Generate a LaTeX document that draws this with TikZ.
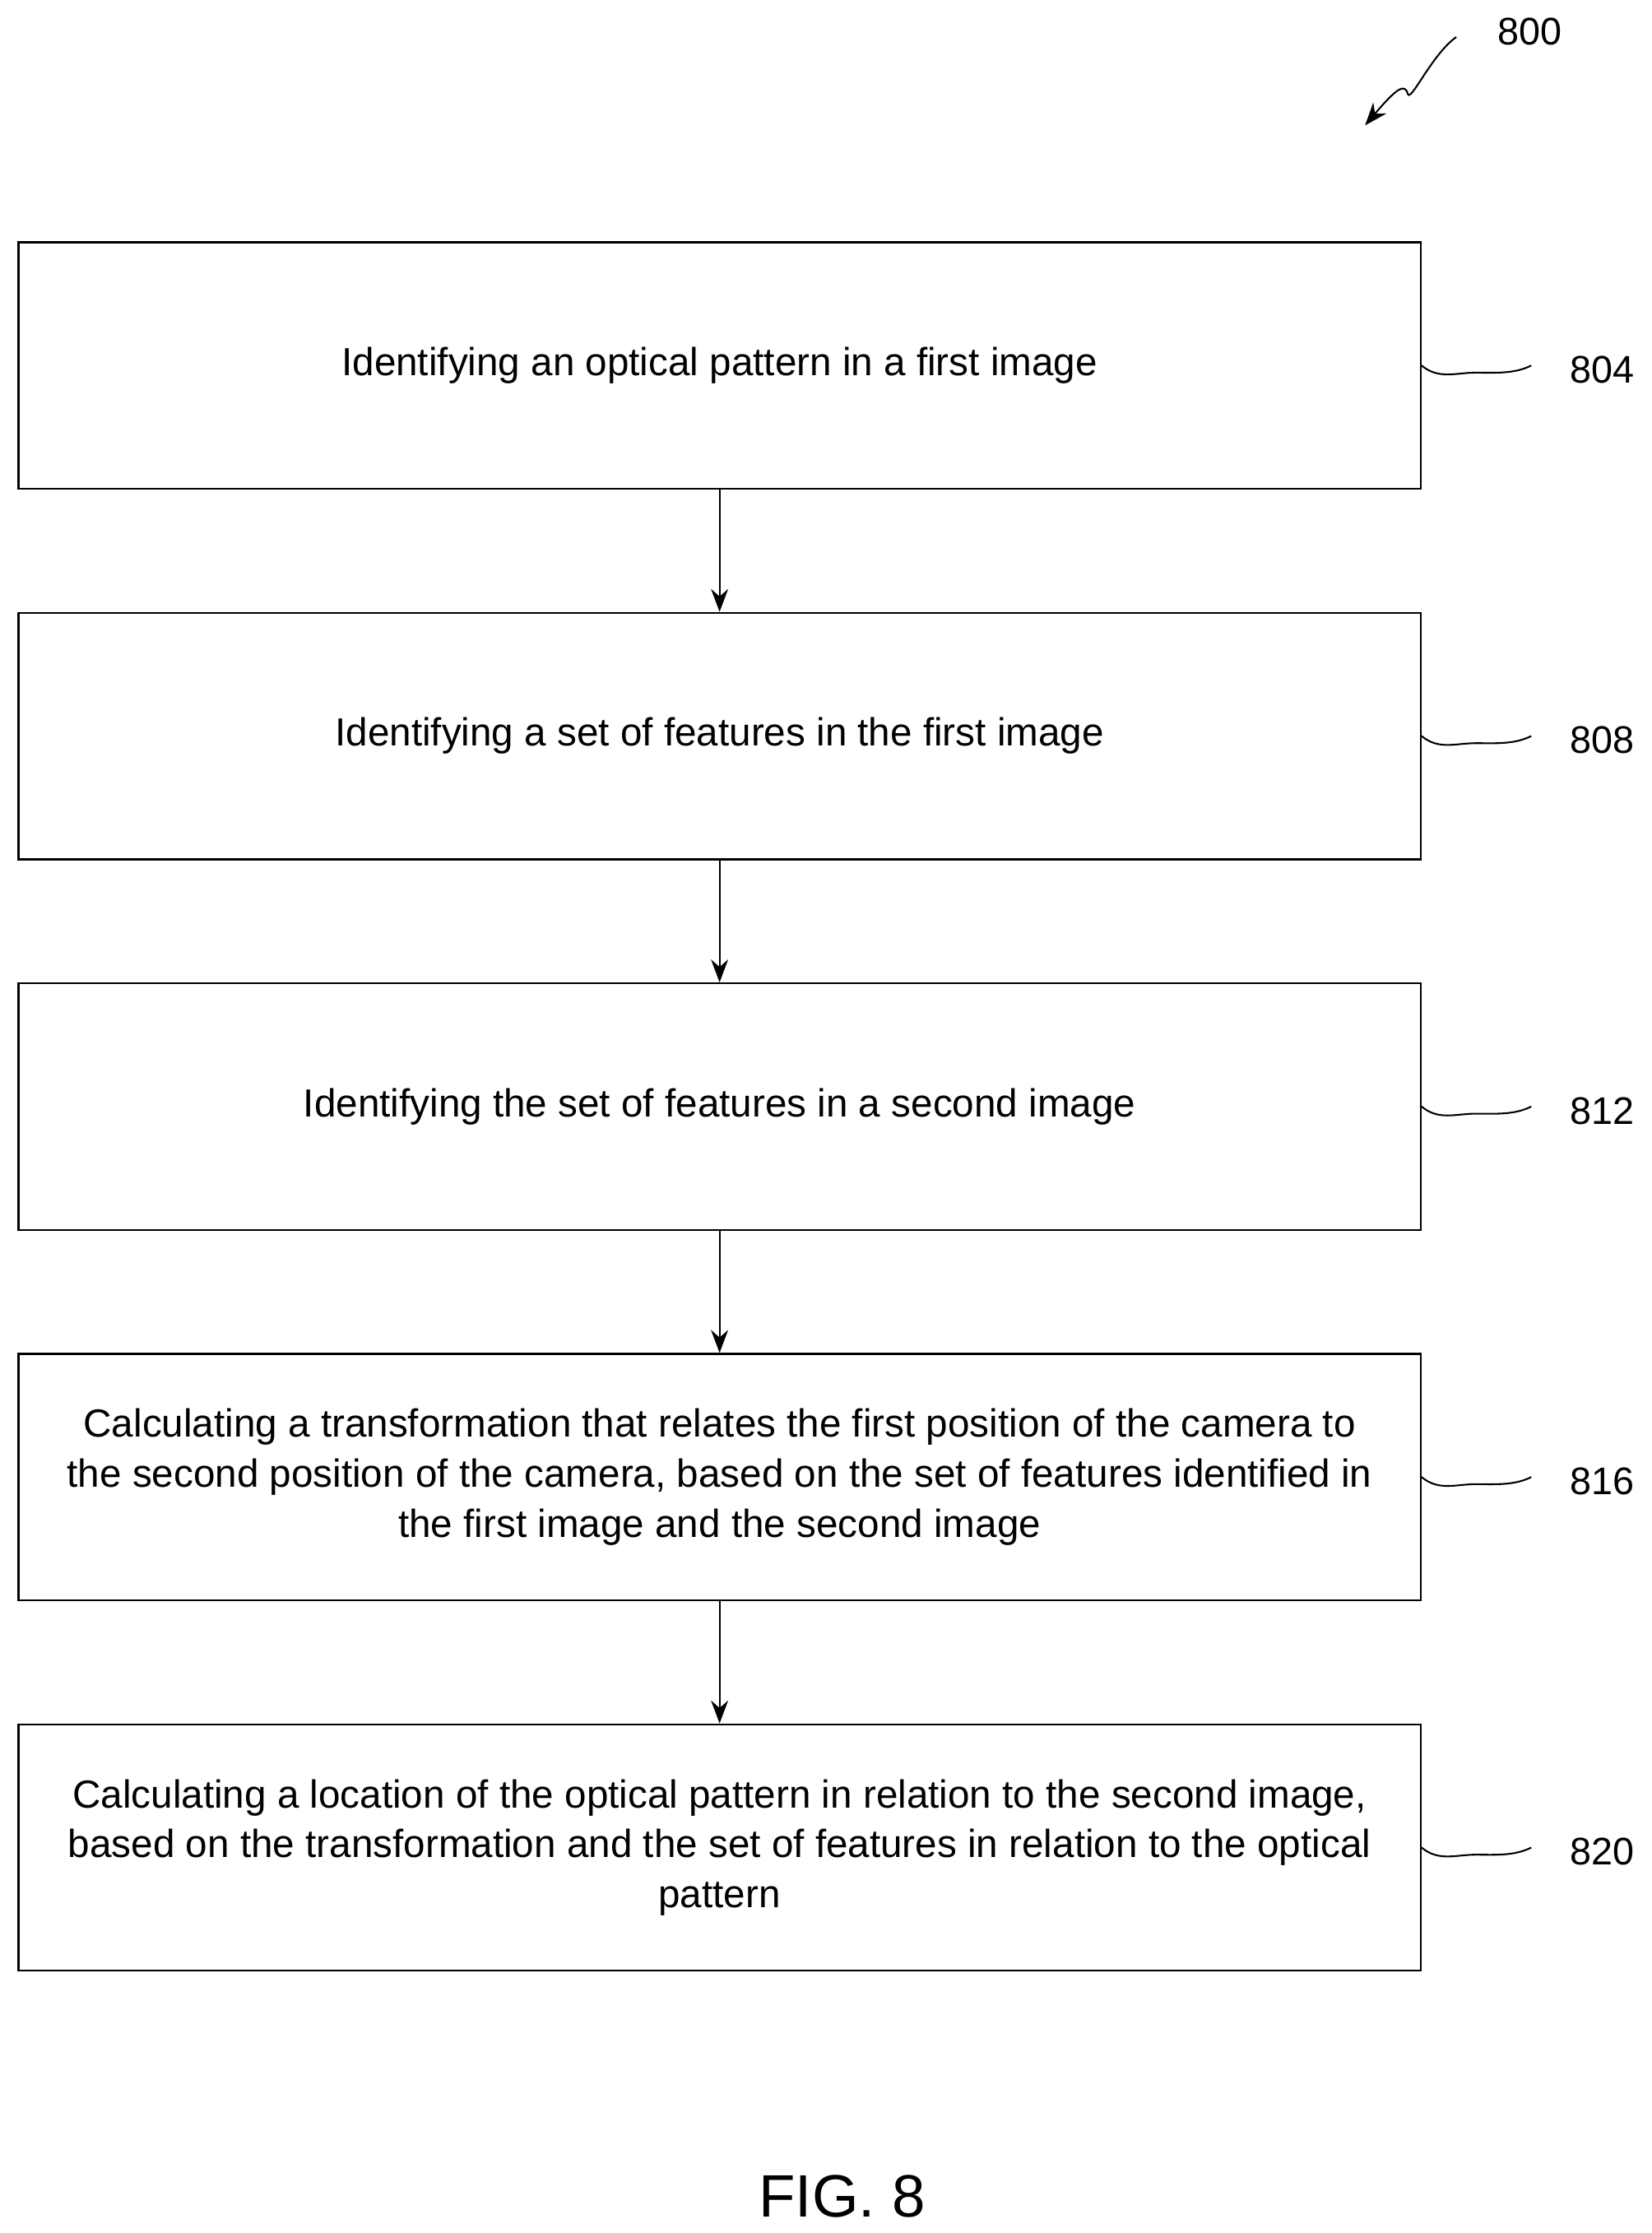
\documentclass[tikz,border=0pt]{standalone}
\usepackage{fontspec}
\setmainfont{Liberation Sans}
\usetikzlibrary{arrows.meta}
\begin{document}
\begin{tikzpicture}[x=1pt,y=-1pt,
  box/.style={draw,line width=1.3pt,minimum width=984pt,minimum height=173pt,align=center,font=\fontsize{27.5}{35}\selectfont,inner sep=0pt},
  lab/.style={font=\fontsize{27}{30}\selectfont,anchor=west,inner sep=0pt},
  arr/.style={line width=1.3pt,-{Stealth[length=16pt,width=12pt]}},
  sq/.style={line width=1.2pt}]
\useasboundingbox (0,0) rectangle (1159,1567);
\node[box] (b1) at (505,256.5) {Identifying an optical pattern in a first image};
\node[box] (b2) at (505,516.5) {Identifying a set of features in the first image};
\node[box] (b3) at (505,776.5) {Identifying the set of features in a second image};
\node[box] (b4) at (505,1036.5) {Calculating a transformation that relates the first position of the camera to\\the second position of the camera, based on the set of features identified in\\the first image and the second image};
\node[box] (b5) at (505,1296.5) {Calculating a location of the optical pattern in relation to the second image,\\based on the transformation and the set of features in relation to the optical\\pattern};
\foreach \a/\b in {b1/b2,b2/b3,b3/b4,b4/b5} \draw[arr] (\a.south) -- (\b.north);
\foreach \i/\t in {1/804,2/808,3/812,4/816,5/820}{
  \path (b\i.east) ++(104,3) node[lab] (l\i) {\t};
  \coordinate (e\i) at ([xshift=-27pt]l\i.west|-b\i.east);
  \draw[sq] (b\i.east) .. controls +(12,10) and +(-14,0) .. +(38,5) .. controls +(14,0) and +(-12,6) .. (e\i);
}
\node[lab] (l0) at (1051,22) {800};
\coordinate (t0) at (958,88);
\draw[line width=1.2pt,-{Stealth[length=16pt,width=12pt]}] (1022,26) .. controls (1005,38) and (990,72) .. (988,66) .. controls (986,58) and (980,62) .. (t0);
\node[font=\fontsize{42}{46}\selectfont] (fig) at (591,1541) {FIG. 8};
\end{tikzpicture}
\end{document}
